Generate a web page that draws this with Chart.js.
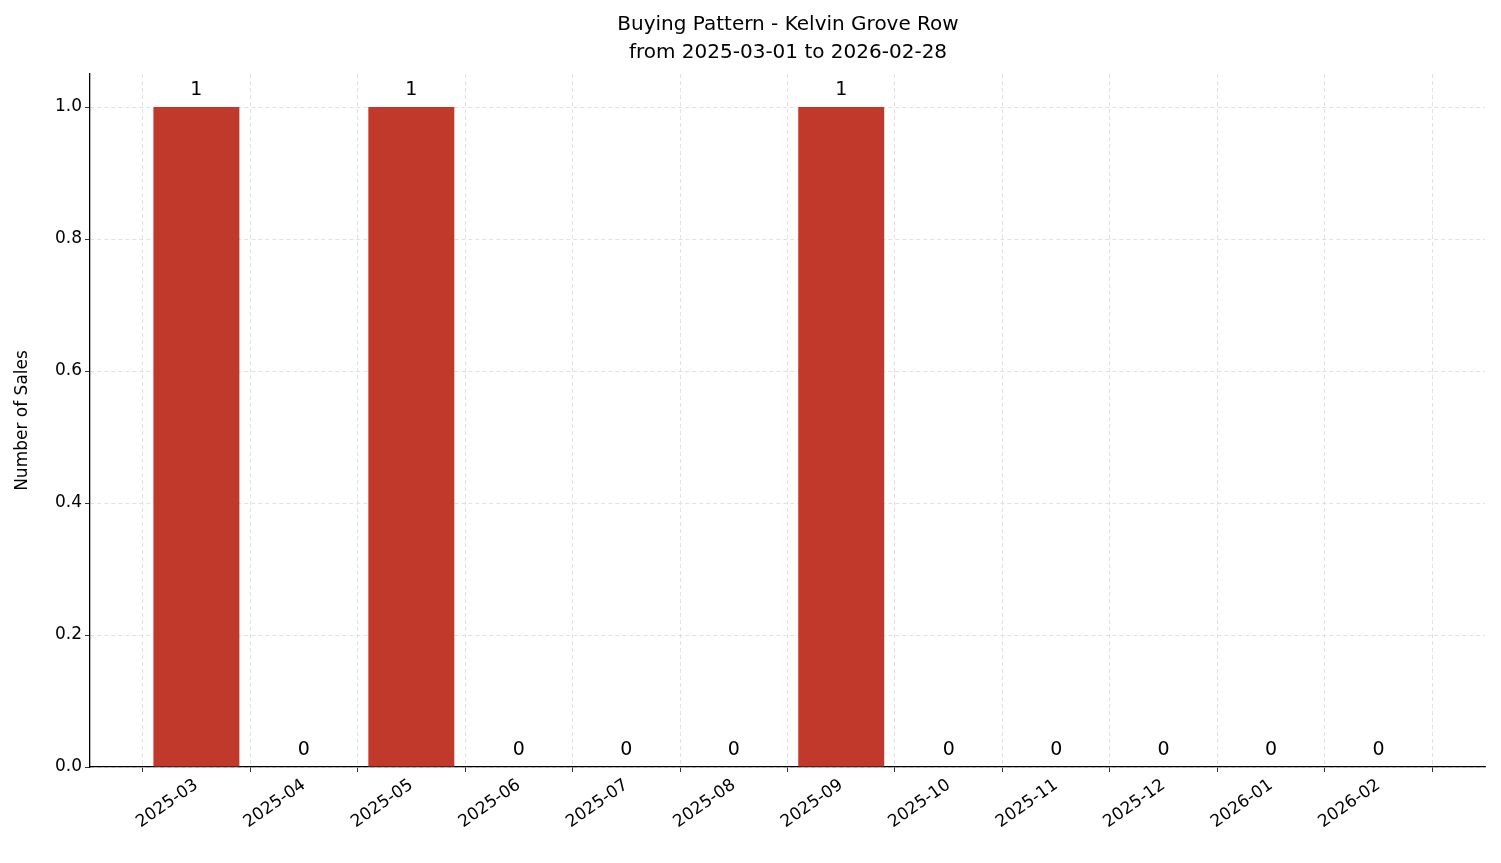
<!DOCTYPE html>
<html><head><meta charset="utf-8">
<script src="https://cdn.jsdelivr.net/npm/chart.js@4"></script>
<style>body{margin:0;background:#fff}#w{width:1501px;height:863px}</style>
</head><body><div id="w"><canvas id="c"></canvas></div>
<script>
const categories=["2025-03","2025-04","2025-05","2025-06","2025-07","2025-08","2025-09","2025-10","2025-11","2025-12","2026-01","2026-02"];
const sales=[1,0,1,0,0,0,1,0,0,0,0,0];
const yTicks=[0,0.2,0.4,0.6,0.8,1.0];
const F="'DejaVu Sans', sans-serif";
const grid={color:'#d9d9d9',lineWidth:0.8,drawTicks:true,tickLength:5,tickColor:'#000'};
const overlay={id:'ov',afterDatasetsDraw(ch){
 const c=ch.ctx,xs=ch.scales.x,ys=ch.scales.y;
 c.save();c.fillStyle='#000';c.textAlign='center';c.textBaseline='bottom';
 c.font='19px '+F;
 sales.forEach((v,i)=>c.fillText(String(v),xs.getPixelForValue(i),ys.getPixelForValue(v)-7));
 c.font='20px '+F;c.textBaseline='middle';
 c.fillText('Buying Pattern - Kelvin Grove Row',788,25);
 c.fillText('from 2025-03-01 to 2026-02-28',788,53);
 c.restore();}};
new Chart(document.getElementById('c'),{type:'bar',
 data:{datasets:[{data:sales.map((v,i)=>({x:i,y:v})),backgroundColor:'#c0392b',barPercentage:0.8,categoryPercentage:1}]},
 options:{responsive:true,maintainAspectRatio:false,animation:false,
  layout:{padding:{top:74,right:16,left:8,bottom:0}},
  plugins:{legend:{display:false},tooltip:{enabled:false}},
  scales:{
   x:{type:'linear',offset:false,min:-0.99,max:11.99,afterFit(s){s.height=96;},
    afterBuildTicks(s){s.ticks=categories.map((_,i)=>({value:i}));},
    ticks:{autoSkip:false,maxRotation:35,minRotation:35,color:'#000',font:{family:F,size:17},callback:(v)=>categories[v]??''},
    grid:grid,border:{color:'#000',width:1.3,dash:[4,3]}},
   y:{min:0,max:1.05,afterFit(s){s.width=82;},
    afterBuildTicks(s){s.ticks=yTicks.map(v=>({value:v}));},
    ticks:{color:'#000',font:{family:F,size:17},callback:v=>v.toFixed(1)},
    title:{display:true,text:'Number of Sales',color:'#000',font:{family:F,size:17}},
    grid:grid,border:{color:'#000',width:1.3,dash:[4,3]}}
  }},plugins:[overlay]});
</script></body></html>
